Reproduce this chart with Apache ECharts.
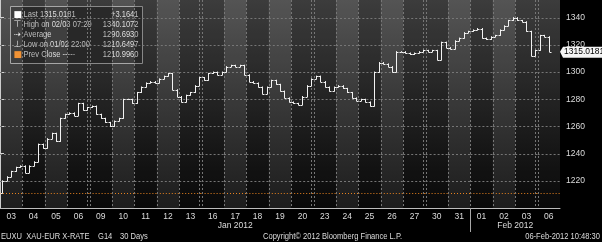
<!DOCTYPE html>
<html>
<head>
<meta charset="utf-8">
<script src="https://cdn.jsdelivr.net/npm/echarts@6/dist/echarts.min.js"></script>
<style>
html,body{margin:0;padding:0;background:#000;}
#c{width:602px;height:242px;background:#000 linear-gradient(to bottom,#474747 0%,#2b2b2b 45%,#0b0b0b 100%) no-repeat 0 0 / 560px 208px;}
</style>
</head>
<body>
<div id="c"></div>
<script>
// ---- data ----
const categories = ['2012-01-03','2012-01-04','2012-01-05','2012-01-06','2012-01-09','2012-01-10','2012-01-11','2012-01-12','2012-01-13','2012-01-16','2012-01-17','2012-01-18','2012-01-19','2012-01-20','2012-01-23','2012-01-24','2012-01-25','2012-01-26','2012-01-27','2012-01-30','2012-01-31','2012-02-01','2012-02-02','2012-02-03','2012-02-06'];
const closesByDay = [
  [1220,1223,1227,1230,1231],
  [1226,1231,1234,1247,1244],
  [1251,1255,1249,1266,1269],
  [1270,1268,1277,1272,1274],
  [1275,1269,1266,1263,1260],
  [1264,1266,1280,1280,1277],
  [1285,1289,1292,1293,1292],
  [1295,1297,1299,1287,1282],
  [1278,1283,1285,1290,1296],
  [1294,1299,1300,1298,1300],
  [1304,1305,1304,1305,1298],
  [1293,1292,1289,1284,1289],
  [1294,1291,1286,1281,1278],
  [1277,1276,1282,1290,1295],
  [1297,1293,1289,1286,1289],
  [1290,1288,1285,1281,1279],
  [1280,1278,1275,1300,1307],
  [1306,1304,1300,1315,1315],
  [1314,1313,1314,1315,1316],
  [1315,1316,1309,1322,1318],
  [1317,1323,1325,1329,1330],
  [1331,1332,1325,1324,1326],
  [1327,1331,1334,1338,1340],
  [1338,1337,1330,1312,1316],
  [1327,1326,1315.0181]
];
const yTicks = [1220, 1240, 1260, 1280, 1300, 1320, 1340];
const prevClose = 1210.9960;
const lastValue = 1315.0181;
const statLabels = ['Last 1315.0181','High on 02/03 07:29','Average','Low on 01/02 22:00','Prev Close -----'];
const statValues = ['+3.1641','1340.1072','1290.6930','1210.6497','1210.9960'];
const statIcons = ['■','⊤','⇢','⊥','■'];
const statIconColors = ['#ffffff','#e6e6e6','#e6e6e6','#e6e6e6','#f08a24'];
const monthNames = {'01':'Jan 2012','02':'Feb 2012'};
const footerLeft = ['EUXU  XAU-EUR X-RATE','G14','30 Days'];
const footerCenter = 'Copyright\u00a9 2012 Bloomberg Finance L.P.';
const footerRight = '06-Feb-2012 10:48:30';

// ---- build ----
const Y_MIN = 1200, Y_MAX = 1353;
const barsPerDay = 5;
const ohlc = [];
let prev = prevClose;
closesByDay.forEach((arr, d) => {
  arr.forEach((c, k) => {
    const o = prev;
    ohlc.push([d + (k + 0.5) / barsPerDay, o, c, Math.min(o, c), Math.max(o, c)]);
    prev = c;
  });
});
const months = [];
categories.forEach((c, i) => {
  const m = c.slice(5, 7);
  if (!months.length || months[months.length - 1].m !== m) months.push({m, start: i, end: i + 1});
  else months[months.length - 1].end = i + 1;
});
const monthCenters = months.filter(o => o.end - o.start > 1).map(o => (o.start + o.end) / 2);
const monthLabelOf = {};
months.forEach(o => { monthLabelOf[(o.start + o.end) / 2] = monthNames[o.m]; });
const monthStarts = months.filter(o => o.start > 0).map(o => o.start);
const dayTime = categories.map(c => Date.parse(c + 'T00:00:00Z'));
const dayShade = dayTime.map(t => { const w = new Date(t).getUTCDay(); return (w === 2 || w === 4) ? 1 : 0; });
const weekStart = dayTime.map((t, i) => i > 0 && t - dayTime[i - 1] > 86400000 ? 1 : 0);

const FONT = 'Liberation Sans';
const TXT = '#dcdcdc';
const LIGHT = 'rgba(255,255,255,0.075)';
const DARK = 'rgba(0,0,0,0.15)';
const GRIDC = '#767676';
const SX = 0.84;

const chart = echarts.init(document.getElementById('c'), null, {renderer: 'canvas'});

const legendChildren = [
  {type: 'rect', shape: {x: 0, y: 0, width: 132, height: 57}, style: {fill: 'rgba(45,45,45,0.82)', stroke: '#a0a0a0', lineWidth: 1}}
];
statLabels.forEach((t, i) => {
  const y = 4 + i * 9.8;
  legendChildren.push({type: 'text', x: 3, y: y, style: {text: statIcons[i], fill: statIconColors[i], font: '9px "DejaVu Sans"'}});
  legendChildren.push({type: 'text', x: 13, y: y, scaleX: SX, style: {text: t, fill: TXT, font: '9px "' + FONT + '"'}});
  legendChildren.push({type: 'text', x: 128, y: y, scaleX: SX, style: {text: statValues[i], fill: TXT, font: '9px "' + FONT + '"', align: 'right'}});
});
function ftxt(text, pos) {
  return Object.assign({type: 'text', bottom: 1, scaleX: SX, style: {text: text, fill: TXT, font: '9px "' + FONT + '"'}}, pos);
}

// grid lines, prev close line and last-price tag, drawn per day band
function renderLines(p, api) {
  const i = api.value(0);
  const t = api.coord([i, Y_MAX]);
  const b = api.coord([i, Y_MIN]);
  const w = api.size([1, 0])[0];
  const x0 = t[0] - w / 2;
  const ch = [];
  const ls = {stroke: GRIDC, lineWidth: 1, lineDash: [2, 2]};
  yTicks.forEach(v => {
    const yy = Math.round(api.coord([i, v])[1]) + 0.5;
    ch.push({type: 'line', shape: {x1: x0, y1: yy, x2: x0 + w, y2: yy}, style: ls});
  });
  const py = Math.round(api.coord([i, prevClose])[1]) + 0.5;
  ch.push({type: 'line', shape: {x1: x0, y1: py, x2: x0 + w, y2: py}, style: {stroke: '#e8821e', lineWidth: 1, lineDash: [1, 2]}});
  if (i > 0) {
    const lx = Math.round(x0) + 0.5;
    ch.push({type: 'line', shape: {x1: lx, y1: t[1], x2: lx, y2: b[1]}, style: ls});
    if (weekStart[i]) ch.push({type: 'line', shape: {x1: lx - 3, y1: t[1], x2: lx - 3, y2: b[1]}, style: ls});
  }
  if (i === categories.length - 1) {
    const ty = api.coord([i, lastValue])[1];
    const tx = x0 + w + 3;
    ch.push({type: 'polygon', shape: {points: [[tx - 3, ty], [tx, ty - 5], [tx + 40, ty - 5], [tx + 40, ty + 6], [tx, ty + 6]]}, style: {fill: '#f4f4f4'}});
    ch.push({type: 'text', x: tx + 1, y: ty - 4, style: {text: lastValue.toFixed(4), fill: '#000', font: '8.5px "' + FONT + '"'}});
  }
  return {type: 'group', children: ch};
}

const option = {
  backgroundColor: 'transparent',
  animation: false,
  grid: {left: 0, right: 42, top: 0, bottom: 34},
  xAxis: [
    {
      type: 'category', data: categories, boundaryGap: true, position: 'bottom',
      axisLine: {show: true, lineStyle: {color: '#bdbdbd', width: 1}},
      axisTick: {show: false},
      axisLabel: {interval: 0, color: TXT, fontSize: 8.5, fontFamily: FONT, margin: 4, formatter: v => v.slice(8)},
      splitLine: {show: false}
    },
    {type: 'value', min: 0, max: categories.length, show: false},
    {
      type: 'value', min: 0, max: categories.length, position: 'bottom',
      axisLine: {show: false},
      axisTick: {show: true, customValues: monthStarts, length: 24, lineStyle: {color: '#a8a8a8'}},
      axisLabel: {customValues: monthCenters, color: TXT, fontSize: 8.5, fontFamily: FONT, margin: 13, formatter: v => monthLabelOf[v] || ''},
      splitLine: {show: false}
    }
  ],
  yAxis: {
    type: 'value', position: 'right', min: Y_MIN, max: Y_MAX, interval: 20,
    axisLine: {show: true, lineStyle: {color: '#c8c8c8'}},
    axisTick: {show: true, length: 4, lineStyle: {color: '#d0d0d0'}},
    axisLabel: {color: TXT, fontSize: 8.5, fontFamily: FONT, margin: 6, showMinLabel: false, showMaxLabel: false, formatter: v => String(v)},
    splitLine: {show: false}
  },
  series: [
    {
      type: 'custom', xAxisIndex: 0, yAxisIndex: 0, z: 1,
      data: categories.map((c, i) => [i]),
      encode: {x: 0},
      renderItem: function (p, api) {
        const t = api.coord([api.value(0), Y_MAX]);
        const b = api.coord([api.value(0), Y_MIN]);
        const w = api.size([1, 0])[0];
        return {type: 'rect', shape: {x: t[0] - w / 2, y: t[1], width: w, height: b[1] - t[1]}, style: {fill: dayShade[p.dataIndex] ? LIGHT : DARK}};
      }
    },
    {
      type: 'custom', xAxisIndex: 0, yAxisIndex: 0, z: 2,
      data: categories.map((c, i) => [i]),
      encode: {x: 0},
      renderItem: renderLines
    },
    {
      type: 'custom', xAxisIndex: 1, yAxisIndex: 0, z: 3,
      data: ohlc,
      encode: {x: 0, y: [1, 2, 3, 4]},
      renderItem: function (params, api) {
        const x = api.value(0);
        const o = api.coord([x, api.value(1)]);
        const c = api.coord([x, api.value(2)]);
        const l = api.coord([x, api.value(3)]);
        const h = api.coord([x, api.value(4)]);
        const px = Math.round(o[0]) + 0.5;
        const st = {stroke: '#f2f2f2', lineWidth: 1};
        return {type: 'group', children: [
          {type: 'line', shape: {x1: px, y1: h[1] - 0.5, x2: px, y2: l[1] + 0.5}, style: st},
          {type: 'line', shape: {x1: px - 2, y1: Math.round(o[1]) + 0.5, x2: px, y2: Math.round(o[1]) + 0.5}, style: st},
          {type: 'line', shape: {x1: px, y1: Math.round(c[1]) + 0.5, x2: px + 2, y2: Math.round(c[1]) + 0.5}, style: st}
        ]};
      }
    }
  ],
  graphic: [
    {type: 'group', left: 10, top: 6, z: 10, children: legendChildren},
    ftxt(footerLeft[0], {left: 1}),
    ftxt(footerLeft[1], {left: 98}),
    ftxt(footerLeft[2], {left: 120}),
    ftxt(footerCenter, {left: 263}),
    ftxt(footerRight, {right: 2})
  ]
};
chart.setOption(option);
</script>
</body>
</html>
